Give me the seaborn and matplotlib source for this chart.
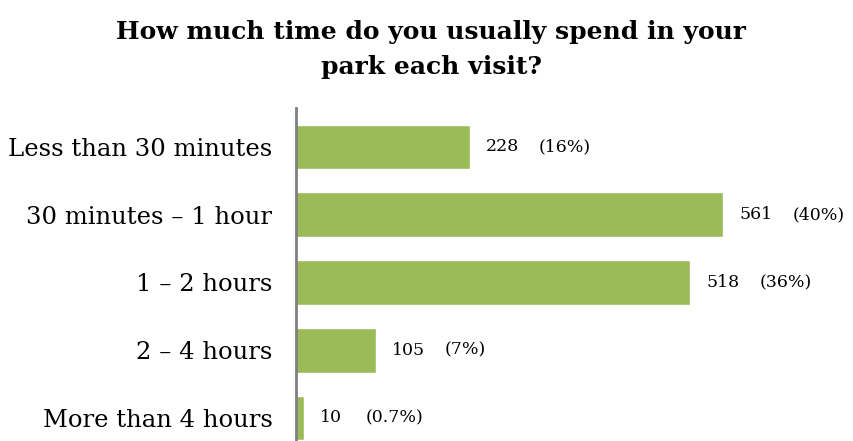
# %% Requirements and constants
import numpy as np
import pandas as pd
import seaborn as sns
import matplotlib.pyplot as plt

categories = ['Less than 30 minutes', '30 minutes – 1 hour', '1 – 2 hours',
              '2 – 4 hours', 'More than 4 hours']
counts = [228, 561, 518, 105, 10]
percents = ['(16%)', '(40%)', '(36%)', '(7%)', '(0.7%)']

title = 'How much time do you usually spend in your\npark each visit?'
bar_color = '#9BBB59'

# %% Plot
sns.set_theme(style='white')
plt.rcParams['font.family'] = ['DejaVu Serif']
plt.rcParams['text.color'] = 'black'
plt.rcParams['ytick.color'] = 'black'

df = pd.DataFrame({'category': categories, 'count': counts})

fig = plt.figure(figsize=(8.54, 4.41), dpi=100)
ax = fig.add_axes([296 / 854, 0.0, 533 / 854, 333 / 441])

sns.barplot(data=df, x='count', y='category', color=bar_color,
            width=0.66, saturation=1, ax=ax)

ax.set_xlim(0, 700)
ax.set_ylim(4.34, -0.574)
ax.set_xlabel('')
ax.set_ylabel('')
ax.set_xticks([])
ax.tick_params(axis='y', length=0, pad=17, labelsize=17.5)
for s in ['top', 'right', 'bottom']:
    ax.spines[s].set_visible(False)
ax.spines['left'].set_color('#808080')
ax.spines['left'].set_linewidth(2)

for i, (c, p) in enumerate(zip(counts, percents)):
    ax.annotate(f'{c}', xy=(c, i), xytext=(16, 0), textcoords='offset pixels',
                va='center', ha='left', fontsize=12.5)
    gap = 53 if len(str(c)) == 3 else 46
    ax.annotate(p, xy=(c, i), xytext=(16 + gap, 0), textcoords='offset pixels',
                va='center', ha='left', fontsize=12.5)

fig.text(0.505, 0.888, title, ha='center', va='center', fontsize=18,
         fontweight='bold', linespacing=1.6)

fig.savefig('out.png', dpi=100)
